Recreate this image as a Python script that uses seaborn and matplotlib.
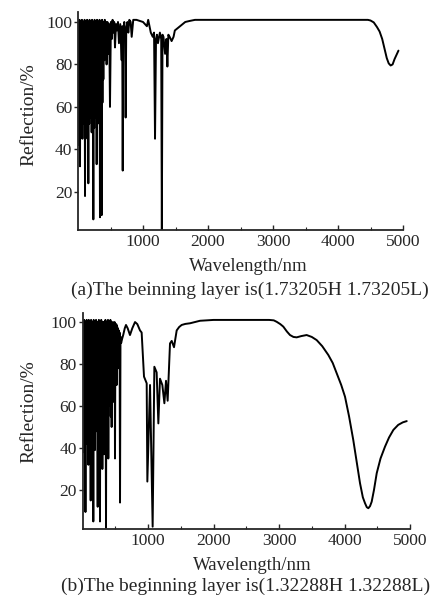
import numpy as np
import pandas as pd
import matplotlib
matplotlib.use("Agg")
import matplotlib.pyplot as plt
import seaborn as sns

# ==========================================
# 反射光谱数据
# ==========================================
# (a) 初始层 1.73205H 1.73205L
wl_a = [0, 5, 11, 18, 24, 31, 37, 43, 49, 55, 61, 68, 74, 80, 87, 95, 101,
        108, 114, 120, 127, 133, 140, 146, 152, 159, 165, 172, 178, 185, 191,
        198, 204, 210, 216, 223, 229, 236, 242, 249, 255, 262, 268, 275, 281,
        287, 293, 300, 306, 312, 318, 325, 331, 338, 344, 351, 357, 364, 370,
        376, 383, 390, 397, 405, 412, 420, 430, 440, 453, 467, 480, 492, 506,
        520, 532, 545, 557, 569, 585, 600, 615, 630, 650, 672, 680, 688, 696,
        712, 725, 733, 742, 760, 774, 790, 810, 826, 850, 900, 1000, 1060,
        1080, 1120, 1150, 1170, 1185, 1200, 1215, 1230, 1260, 1280, 1290,
        1300, 1315, 1340, 1360, 1375, 1390, 1410, 1440, 1470, 1490, 1530,
        1570, 1650, 1720, 1800, 2000, 2500, 3000, 3500, 4000, 4300, 4460,
        4500, 4550, 4600, 4640, 4680, 4720, 4750, 4780, 4810, 4840, 4870,
        4900, 4930]
refl_a = [100, 42, 100, 50, 101, 32, 100, 48, 100, 55, 101, 45, 100, 52, 100,
          58, 101, 18, 100, 50, 100, 56, 101, 45, 100, 24, 100, 52, 101, 55,
          100, 60, 100, 48, 101, 56, 100, 7, 100, 50, 101, 58, 100, 55, 100,
          33, 101, 52, 100, 60, 100, 57, 101, 8, 100, 55, 100, 9, 101, 62,
          100, 73, 100, 82, 101, 90, 100, 80, 100, 85, 99, 60, 100, 92, 101,
          95, 100, 88, 99, 96, 100, 90, 99, 82, 98, 30, 96, 100, 93, 55, 97,
          100, 95, 101, 100, 93, 101, 101, 100, 98, 101, 95, 93, 95, 45, 92,
          94, 90, 95, 92, 2, 94, 93, 85, 92, 79, 94, 93, 91, 93, 96, 97, 98,
          100, 100.5, 101, 101, 101, 101, 101, 101, 101, 101, 100.7, 99.8,
          97.6, 95.5, 92, 86.8, 83, 80.5, 79.5, 80, 82.5, 84.5, 86.5]

# (b) 初始层 1.32288H 1.32288L
wl_b = [0, 8, 14, 20, 26, 32, 39, 45, 51, 57, 64, 70, 76, 82, 86, 90, 96,
        102, 108, 115, 120, 125, 131, 138, 144, 150, 158, 165, 171, 177, 184,
        190, 196, 201, 207, 214, 223, 232, 238, 244, 250, 256, 261, 267, 274,
        280, 286, 292, 298, 303, 310, 316, 322, 328, 334, 340, 350, 359, 366,
        372, 378, 384, 389, 394, 401, 408, 414, 420, 426, 432, 438, 445, 452,
        458, 464, 470, 477, 484, 490, 496, 503, 510, 516, 522, 528, 535, 542,
        548, 554, 560, 566, 573, 580, 590, 605, 623, 645, 664, 690, 725, 760,
        802, 837, 878, 903, 939, 980, 990, 1031, 1071, 1097, 1132, 1158,
        1183, 1219, 1250, 1275, 1300, 1336, 1362, 1397, 1438, 1475, 1514,
        1570, 1641, 1720, 1794, 2000, 2500, 2850, 2920, 2965, 3020, 3066,
        3120, 3168, 3220, 3270, 3340, 3422, 3500, 3575, 3660, 3753, 3820,
        3880, 3950, 4008, 4070, 4134, 4190, 4237, 4280, 4313, 4340, 4364,
        4390, 4415, 4450, 4492, 4550, 4618, 4680, 4746, 4820, 4890, 4950]
refl_b = [100, 45, 100, 38, 101, 55, 100, 9.5, 100, 50, 101, 42, 100, 60, 100,
          32, 101, 48, 100, 56, 100, 15, 101, 45, 100, 58, 100, 5, 101, 50,
          100, 39, 100, 55, 101, 48, 100, 12, 100, 52, 101, 60, 100, 5, 100,
          45, 101, 58, 100, 30, 97, 50, 100, 37, 100, 62, 101, 2, 100, 55,
          100, 48, 101, 35, 100, 60, 100, 66, 101, 55, 100, 50, 99, 70, 100,
          62, 98, 75, 100, 35, 97, 80, 99, 70, 98, 85, 97, 78, 96, 90, 95, 14,
          93, 90, 92, 94, 97, 98.6, 97, 93.8, 97, 100, 99, 96, 95, 74, 70.8,
          24, 70, 2.5, 78.7, 76, 51.7, 73, 70, 61.3, 72, 62.5, 89.8, 91, 88,
          96, 97.6, 98.6, 99.1, 99.4, 100, 100.6, 101, 101, 101, 100.8, 100.1,
          99, 97.8, 95.5, 93.8, 92.9, 92.7, 93.3, 93.8, 92.9, 91.4, 88.5,
          84.3, 80.5, 75.6, 70, 64.4, 55, 43.8, 32.5, 23.2, 16.5, 13.7, 11.8,
          11.3, 12.3, 14.4, 20, 28, 35, 40.6, 45, 48.6, 51, 52.2, 52.8]

x_ticks = [1000, 2000, 3000, 4000, 5000]
y_ticks = [20, 40, 60, 80, 100]
caption_a = "(a)The beinning layer is(1.73205H 1.73205L)"
caption_b = "(b)The beginning layer is(1.32288H 1.32288L)"

# ==========================================
# 图表样式
# ==========================================
sns.set_style("ticks")
plt.rcParams['font.family'] = ['Liberation Serif', 'DejaVu Serif']

W, H = 438, 606
fig = plt.figure(figsize=(W / 100, H / 100), dpi=100)


def px_axes(left, right, top, bottom):
    return fig.add_axes([left / W, 1 - bottom / H, (right - left) / W, (bottom - top) / H])


panels = [
    dict(wl=wl_a, refl=refl_a, cap=caption_a, box=(78, 403, 12, 230), ylim=(2, 104.7),
         xl=(0.523, -0.128), yl=(-0.126, 0.528), cp=(0.529, -0.275)),
    dict(wl=wl_b, refl=refl_b, cap=caption_b, box=(82.5, 410, 313, 529), ylim=(1.4, 104.3),
         xl=(0.518, -0.130), yl=(-0.139, 0.542), cp=(0.498, -0.264)),
]

for p in panels:
    ax = px_axes(*p['box'])
    df = pd.DataFrame({'wavelength': p['wl'], 'reflection': p['refl']})
    sns.lineplot(data=df, x='wavelength', y='reflection', color='black',
                 linewidth=1.4, estimator=None, sort=False, ax=ax)
    ax.set_xlim(0, 5000)
    ax.set_ylim(*p['ylim'])
    ax.set_xticks(x_ticks)
    ax.set_xticks([500, 1500, 2500, 3500, 4500], minor=True)
    ax.set_yticks(y_ticks)
    ax.tick_params(axis='x', which='major', direction='in', length=3.5, width=1, pad=3, labelsize=12.5)
    ax.tick_params(axis='x', which='minor', direction='in', length=2, width=0.8)
    ax.tick_params(axis='y', direction='out', length=3, width=1, pad=1, labelsize=12.5)
    for s in ['left', 'bottom']:
        ax.spines[s].set_linewidth(1.3)
    sns.despine(ax=ax)
    ax.set_xlabel('Wavelength/nm', fontsize=13.5)
    ax.xaxis.set_label_coords(*p['xl'])
    ax.set_ylabel('Reflection/%', fontsize=14)
    ax.yaxis.set_label_coords(*p['yl'])
    ax.text(p['cp'][0], p['cp'][1], p['cap'], transform=ax.transAxes,
            ha='center', va='center', fontsize=14)

plt.savefig('out.png', dpi=100)
plt.close()
